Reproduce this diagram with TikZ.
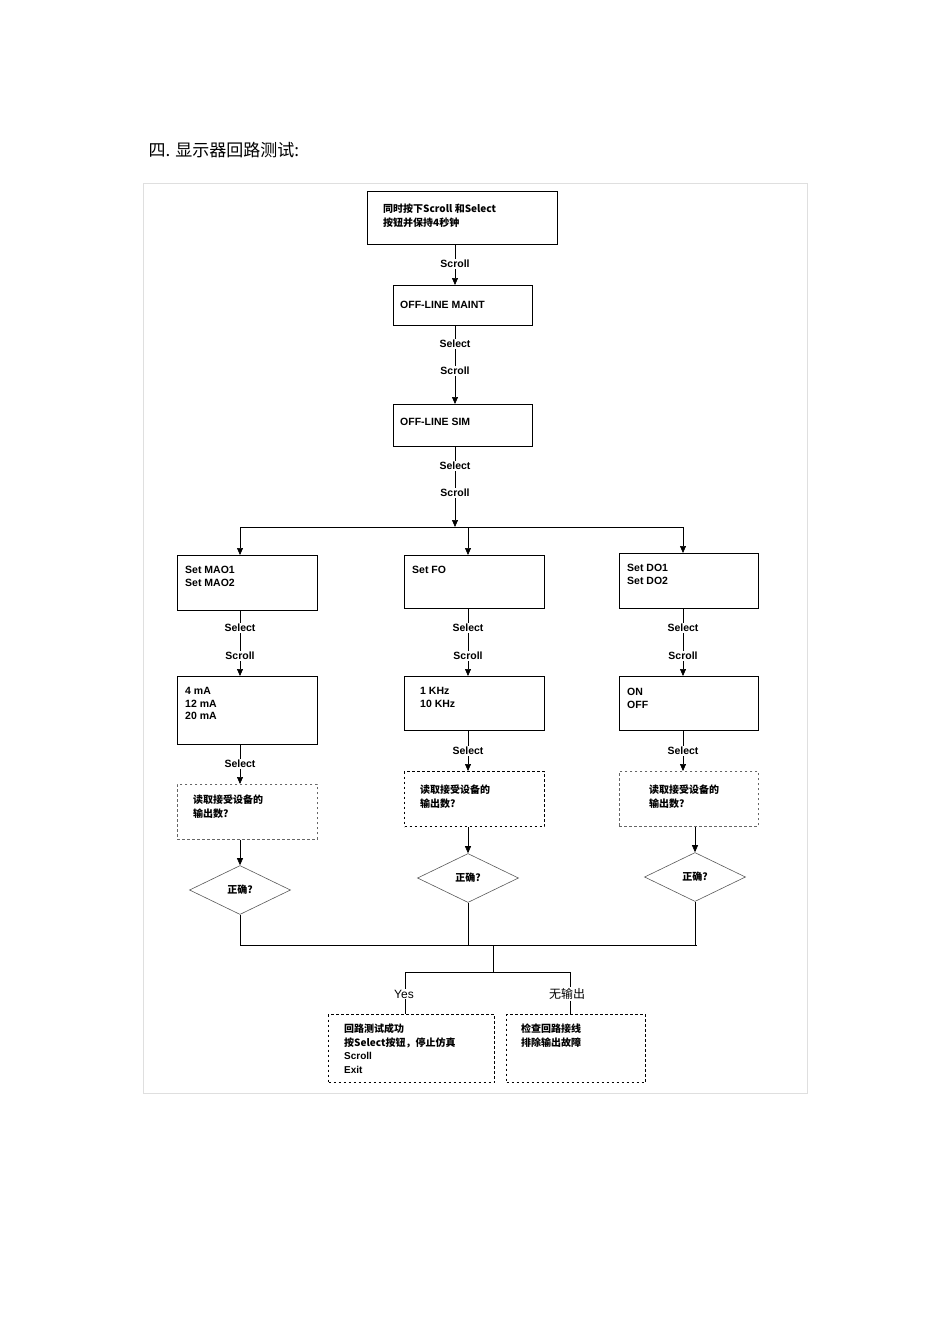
\documentclass[tikz,border=0pt]{standalone}
\usepackage{fontspec}
\setmainfont{Liberation Sans}
\newfontfamily\cjk{Noto Sans CJK SC}
\usetikzlibrary{shapes.geometric,arrows.meta}
\begin{document}
\begin{tikzpicture}[x=1pt,y=-1pt,
  bx/.style={draw,line width=0.9pt,inner sep=0,anchor=north west},
  dbx/.style={bx,dash pattern=on 2.5pt off 2.5pt,line width=1pt},
  txt/.style={anchor=north west,align=left,inner sep=0,font=\fontsize{10.5}{12.6}\selectfont\bfseries,text depth=0pt},
  lab/.style={font=\fontsize{10.5}{12}\selectfont\bfseries,fill=white,inner sep=1pt},
  dia/.style={draw=gray!70!black,diamond,aspect=2.1,inner sep=0,minimum width=101pt,minimum height=49pt,line width=0.6pt},
  ln/.style={line width=0.6pt},
  ar/.style={ln,-{Triangle[length=7pt,width=6pt]}}]
\useasboundingbox (0,0) rectangle (950,1344);
\node[anchor=west,font=\cjk\fontsize{17}{18}\selectfont] (title) at (145,150) {四. 显示器回路测试:};
\draw[gray!25,line width=0.8pt] (143,183) rectangle (807,1093);
% top chain
\node[bx,minimum width=190pt,minimum height=53pt] (b1) at (367,191) {};
\node[txt,font=\cjk\fontsize{10}{13.5}\selectfont\bfseries] (t1) at (383,204) {同时按下Scroll 和Select\\按钮并保持4秒钟};
\node[lab] (s1) at (455,264) {Scroll};
\node[bx,minimum width=139pt,minimum height=40pt] (b2) at (393,285) {};
\node[txt,anchor=west] (t2) at (400,305) {OFF-LINE MAINT};
\node[lab] (s2) at (455,344) {Select};
\node[lab] (s3) at (455,371) {Scroll};
\node[bx,minimum width=139pt,minimum height=42pt] (b3) at (393,404) {};
\node[txt,anchor=west] (t3) at (400,422) {OFF-LINE SIM};
\node[lab] (s4) at (455,466) {Select};
\node[lab] (s5) at (455,493) {Scroll};
\coordinate (jc) at (455,527);
\coordinate (jl) at (240,527);
\coordinate (jm) at (468,527);
\coordinate (jr) at (683,527);
\draw[ln] (b1.south -| s1) -- (s1);
\draw[ar] (s1) -- (b2.north -| s1);
\draw[ln] (b2.south -| s2) -- (s2);
\draw[ln] (s2) -- (s3);
\draw[ar] (s3) -- (b3.north -| s3);
\draw[ln] (b3.south -| s4) -- (s4);
\draw[ln] (s4) -- (s5);
\draw[ar] (s5) -- (jc);
\draw[ln] (jl) -- (jr);
% row 1
\node[bx,minimum width=140pt,minimum height=55pt] (l1) at (177,555) {};
\node[txt] (tl1) at (185,566) {Set MAO1\\Set MAO2};
\node[bx,minimum width=140pt,minimum height=53pt] (m1) at (404,555) {};
\node[txt] (tm1) at (412,566) {Set FO};
\node[bx,minimum width=139pt,minimum height=55pt] (r1) at (619,553) {};
\node[txt] (tr1) at (627,564) {Set DO1\\Set DO2};
\draw[ar] (jl) -- (l1.north -| jl);
\draw[ar] (jm) -- (m1.north -| jm);
\draw[ar] (jr) -- (r1.north -| jr);
% labels row
\foreach \n/\x in {L/240,M/468,R/683}{
  \node[lab] (sa\n) at (\x,628) {Select};
  \node[lab] (sb\n) at (\x,656) {Scroll};
}
\draw[ln] (l1.south -| saL) -- (saL); \draw[ln] (saL) -- (sbL);
\draw[ln] (m1.south -| saM) -- (saM); \draw[ln] (saM) -- (sbM);
\draw[ln] (r1.south -| saR) -- (saR); \draw[ln] (saR) -- (sbR);
% row 2
\node[bx,minimum width=140pt,minimum height=68pt] (l2) at (177,676) {};
\node[txt] (tl2) at (185,687) {4 mA\\12 mA\\20 mA};
\node[bx,minimum width=140pt,minimum height=54pt] (m2) at (404,676) {};
\node[txt] (tm2) at (420,687) {1 KHz\\10 KHz};
\node[bx,minimum width=139pt,minimum height=54pt] (r2) at (619,676) {};
\node[txt] (tr2) at (627,688) {ON\\OFF};
\draw[ar] (sbL) -- (l2.north -| sbL);
\draw[ar] (sbM) -- (m2.north -| sbM);
\draw[ar] (sbR) -- (r2.north -| sbR);
\node[lab] (scL) at (240,764) {Select};
\node[lab] (scM) at (468,751) {Select};
\node[lab] (scR) at (683,751) {Select};
\draw[ln] (l2.south -| scL) -- (scL);
\draw[ln] (m2.south -| scM) -- (scM);
\draw[ln] (r2.south -| scR) -- (scR);
% row 3 dashed
\node[dbx,minimum width=140pt,minimum height=55pt,draw=gray!80!black,line width=0.7pt] (l3) at (177,784) {};
\node[txt,font=\cjk\fontsize{10}{13.5}\selectfont\bfseries] (tl3) at (193,795) {读取接受设备的\\输出数?};
\node[dbx,minimum width=140pt,minimum height=55pt] (m3) at (404,771) {};
\node[txt,font=\cjk\fontsize{10}{13.5}\selectfont\bfseries] (tm3) at (420,785) {读取接受设备的\\输出数?};
\node[dbx,minimum width=139pt,minimum height=55pt,draw=gray!80!black,line width=0.7pt] (r3) at (619,771) {};
\node[txt,font=\cjk\fontsize{10}{13.5}\selectfont\bfseries] (tr3) at (649,785) {读取接受设备的\\输出数?};
\draw[ar] (scL) -- (l3.north -| scL);
\draw[ar] (scM) -- (m3.north -| scM);
\draw[ar] (scR) -- (r3.north -| scR);
% diamonds
\node[dia] (dl) at (240,890) {\cjk\fontsize{10}{12}\selectfont\bfseries 正确?};
\node[dia] (dm) at (468,878) {\cjk\fontsize{10}{12}\selectfont\bfseries 正确?};
\node[dia] (dr) at (695,877) {\cjk\fontsize{10}{12}\selectfont\bfseries 正确?};
\draw[ar] (l3.south -| dl) -- (dl.north);
\draw[ar] (m3.south -| dm) -- (dm.north);
\draw[ar] (r3.south -| dr) -- (dr.north);
\coordinate (bl) at (240,945);
\coordinate (br) at (697,945);
\coordinate (bc) at (493,945);
\coordinate (bd) at (493,972);
\coordinate (yl) at (405,972);
\coordinate (yr) at (570,972);
\draw[ln] (dl.south) -- (bl);
\draw[ln] (dm.south) -- (dm.south |- bl);
\draw[ln] (dr.south) -- (dr.south |- bl);
\draw[ln] (bl) -- (br);
\draw[ln] (bc) -- (bd);
\draw[ln] (yl) -- (yr);
\node[lab,font=\fontsize{12}{13}\selectfont] (yes) at (404,994) {Yes};
\node[lab,font=\cjk\fontsize{12}{13}\selectfont] (no) at (567,994) {无输出};
\draw[ln] (yl) -- (yes.north -| yl);
\draw[ln] (yr) -- (no.north -| yr);
\node[dbx,minimum width=166pt,minimum height=68pt] (by) at (328,1014) {};
\node[txt,font=\cjk\fontsize{10}{13.5}\selectfont\bfseries] (ty) at (344,1024) {回路测试成功\\按Select按钮，停止仿真\\\fontspec{Liberation Sans}\bfseries Scroll\\\fontspec{Liberation Sans}\bfseries Exit};
\node[dbx,minimum width=139pt,minimum height=68pt] (bn) at (506,1014) {};
\node[txt,font=\cjk\fontsize{10}{13.5}\selectfont\bfseries] (tn) at (521,1024) {检查回路接线\\排除输出故障};
\draw[ln] (yes.south -| yl) -- (by.north -| yl);
\draw[ln] (no.south -| yr) -- (bn.north -| yr);
\end{tikzpicture}
\end{document}
